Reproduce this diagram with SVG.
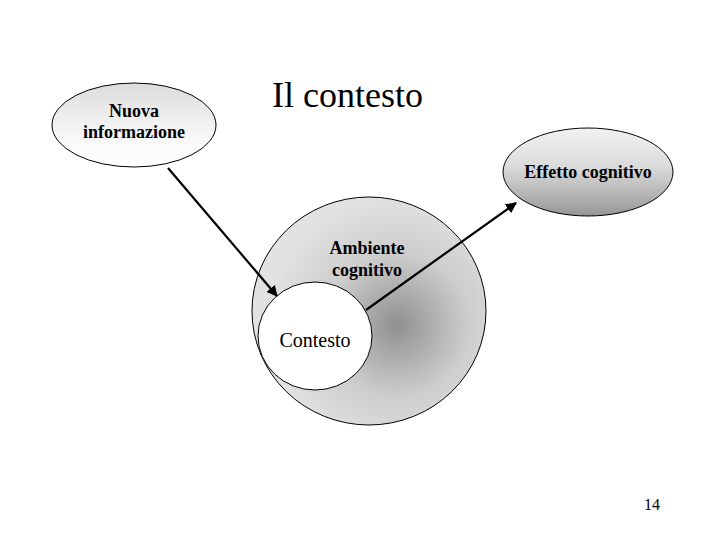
<svg xmlns="http://www.w3.org/2000/svg" width="720" height="540" viewBox="0 0 720 540">
<defs>
<linearGradient id="gNuova" x1="0" y1="0" x2="0" y2="1">
<stop offset="0" stop-color="#dcdcdc"/>
<stop offset="0.6" stop-color="#f6f6f6"/>
<stop offset="1" stop-color="#ffffff"/>
</linearGradient>
<linearGradient id="gEffetto" x1="0" y1="0" x2="0" y2="1">
<stop offset="0" stop-color="#f2f2f2"/>
<stop offset="0.45" stop-color="#dadada"/>
<stop offset="1" stop-color="#969696"/>
</linearGradient>
<radialGradient id="gAmb" cx="397" cy="325" r="130" gradientUnits="userSpaceOnUse">
<stop offset="0" stop-color="#909090"/>
<stop offset="0.55" stop-color="#cdcdcd"/>
<stop offset="1" stop-color="#e2e2e2"/>
</radialGradient>
<marker id="arr" viewBox="0 0 10 10" refX="9" refY="5" markerWidth="5" markerHeight="5" orient="auto" markerUnits="strokeWidth">
<path d="M0,0 L10,5 L0,10 z" fill="#000"/>
</marker>
</defs>
<style>
.shape{stroke:#000;stroke-width:1}
.lbl{font-family:"Liberation Serif","Times New Roman",serif;font-weight:bold;font-size:18px;text-anchor:middle;fill:#000}
.conn{stroke:#000;stroke-width:2.2;fill:none;marker-end:url(#arr)}
</style>
<rect width="720" height="540" fill="#fff"/>
<text x="272" y="107" font-family="'Liberation Serif','Times New Roman',serif" font-size="36" fill="#000">Il contesto</text>
<g id="nuova">
<ellipse class="shape" cx="134" cy="125" rx="82" ry="42" fill="url(#gNuova)"/>
<text class="lbl" x="134" y="117">Nuova</text>
<text class="lbl" x="134" y="138">informazione</text>
</g>
<g id="effetto">
<ellipse class="shape" cx="588" cy="172" rx="85" ry="44" fill="url(#gEffetto)"/>
<text class="lbl" x="588" y="178">Effetto cognitivo</text>
</g>
<g id="ambiente">
<ellipse class="shape" cx="369" cy="311" rx="117" ry="114" fill="url(#gAmb)"/>
<text class="lbl" x="367" y="254">Ambiente</text>
<text class="lbl" x="367" y="276">cognitivo</text>
</g>
<g id="contesto">
<ellipse class="shape" cx="315" cy="336" rx="57" ry="54" fill="#fff"/>
<text x="315" y="347" font-family="'Liberation Serif','Times New Roman',serif" font-size="20" text-anchor="middle" fill="#000">Contesto</text>
</g>
<g id="connectors">
<line class="conn" x1="168" y1="168" x2="277" y2="296"/>
<line class="conn" x1="366" y1="310" x2="516" y2="203"/>
</g>
<text x="652" y="510" font-family="'Liberation Serif','Times New Roman',serif" font-size="16" text-anchor="middle" fill="#000">14</text>
</svg>
